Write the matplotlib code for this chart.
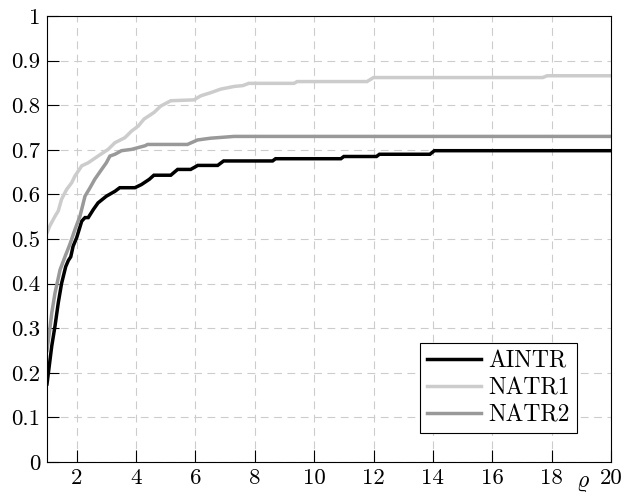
import matplotlib
matplotlib.use('Agg')
import matplotlib.pyplot as plt

plt.rcParams['font.family'] = 'cmr10'
plt.rcParams['mathtext.fontset'] = 'cm'
plt.rcParams['axes.formatter.use_mathtext'] = True

# performance profile data
aintr_x = [1.0, 1.16, 1.27, 1.38, 1.49, 1.63, 1.72, 1.80, 1.88, 2.0, 2.17, 2.28, 2.39,
           2.56, 2.72, 3.0, 3.29, 3.45, 3.96, 4.18, 4.45, 4.6, 5.17, 5.4, 5.84, 6.08,
           6.75, 6.95, 8.6, 8.7, 10.9, 11.0, 12.1, 12.2, 13.9, 14.05, 20.0]
aintr_y = [0.175, 0.26, 0.305, 0.357, 0.40, 0.438, 0.452, 0.46, 0.484, 0.503, 0.54, 0.548,
           0.548, 0.566, 0.581, 0.596, 0.607, 0.615, 0.615, 0.622, 0.634, 0.643, 0.643,
           0.656, 0.656, 0.665, 0.665, 0.675, 0.675, 0.68, 0.68, 0.685, 0.685, 0.69, 0.69,
           0.698, 0.698]

natr1_x = [1.0, 1.1, 1.27, 1.38, 1.49, 1.66, 1.83, 1.94, 2.17, 2.39, 2.72, 3.06, 3.29,
           3.62, 3.85, 4.07, 4.27, 4.61, 4.83, 5.17, 5.95, 6.18, 6.51, 6.85, 7.3, 7.6,
           7.8, 9.32, 9.43, 11.78, 12.0, 17.7, 17.85, 20.0]
natr1_y = [0.514, 0.53, 0.551, 0.563, 0.589, 0.611, 0.626, 0.641, 0.664, 0.671, 0.686,
           0.701, 0.716, 0.727, 0.742, 0.753, 0.769, 0.784, 0.798, 0.81, 0.812, 0.821,
           0.828, 0.836, 0.842, 0.844, 0.849, 0.849, 0.853, 0.853, 0.862, 0.862, 0.866,
           0.866]

natr2_x = [1.0, 1.08, 1.16, 1.27, 1.44, 1.61, 1.77, 1.94, 2.11, 2.28, 2.45, 2.61, 2.84,
           3.0, 3.12, 3.29, 3.51, 3.85, 4.3, 4.39, 5.73, 6.07, 6.51, 7.3, 20.0]
natr2_y = [0.25, 0.29, 0.334, 0.379, 0.431, 0.461, 0.488, 0.521, 0.551, 0.596, 0.615,
           0.634, 0.656, 0.671, 0.686, 0.69, 0.698, 0.701, 0.709, 0.712, 0.712, 0.722,
           0.726, 0.73, 0.73]

x_ticks = [2, 4, 6, 8, 10, 12, 14, 16, 18, 20]
y_ticks = [0, 0.1, 0.2, 0.3, 0.4, 0.5, 0.6, 0.7, 0.8, 0.9, 1]
y_labels = ['0', '0.1', '0.2', '0.3', '0.4', '0.5', '0.6', '0.7', '0.8', '0.9', '1']

fig = plt.figure(figsize=(6.26, 4.97), dpi=100)
ax = fig.add_axes([47/626, 1-462/497, (611-47)/626, (462-16)/497])

ax.plot(aintr_x, aintr_y, color='black', lw=2.5, label='AINTR', solid_joinstyle='miter')
ax.plot(natr1_x, natr1_y, color='#cccccc', lw=2.5, label='NATR1', solid_joinstyle='miter')
ax.plot(natr2_x, natr2_y, color='#999999', lw=2.5, label='NATR2', solid_joinstyle='miter')

ax.set_xlim(1, 20)
ax.set_ylim(0, 1)
ax.set_xticks(x_ticks)
ax.set_xticklabels([str(t) for t in x_ticks])
ax.set_yticks(y_ticks)
ax.set_yticklabels(y_labels)
ax.tick_params(direction='in', length=8.5, width=0.8, labelsize=16.5, pad=5,
               top=False, right=False)
ax.grid(True, color='#cccccc', linestyle=(0, (7, 5)), lw=0.8)
for s in ax.spines.values():
    s.set_linewidth(0.8)

ax.text(0.95, -0.022, r'$\varrho$', transform=ax.transAxes, fontsize=17,
        ha='center', va='top')

leg = ax.legend(loc='lower right', bbox_to_anchor=(0.94, 0.064), fontsize=17,
                frameon=True, fancybox=False, edgecolor='black', framealpha=1,
                handlelength=2.3, handletextpad=0.3, borderpad=0.3, labelspacing=0.2,
                borderaxespad=0)
leg.get_frame().set_linewidth(0.8)

fig.savefig('out.png', dpi=100)
